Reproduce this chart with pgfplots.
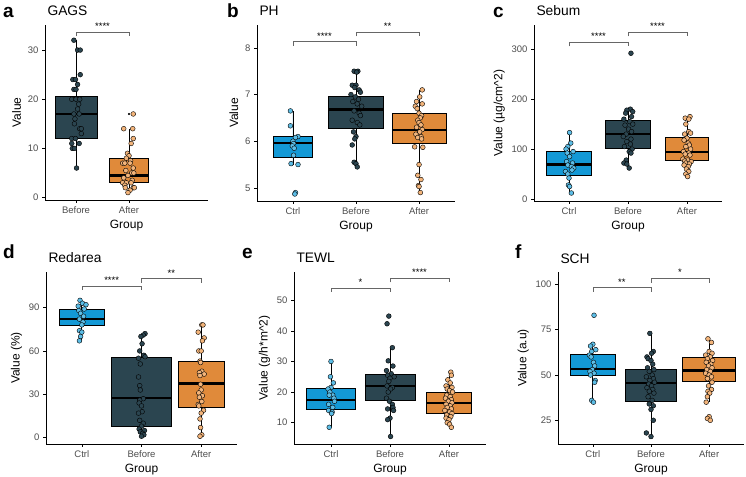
\documentclass[border=0pt]{standalone}
\usepackage{pgfplots}
\pgfplotsset{compat=1.18}
\usepgfplotslibrary{statistics}
\usepackage{fontspec}
\setmainfont{Liberation Sans}
\definecolor{ctrlbox}{HTML}{1399D6}
\definecolor{ctrlpt}{HTML}{5CBDE6}
\definecolor{befbox}{HTML}{2B4550}
\definecolor{befpt}{HTML}{2B4550}
\definecolor{aftbox}{HTML}{E08A3A}
\definecolor{aftpt}{HTML}{F3B47A}
\definecolor{tickgrey}{HTML}{4D4D4D}
\definecolor{brgrey}{HTML}{666666}
\pgfplotsset{
  panel/.style={scale only axis, anchor=south west, axis lines=left,
    axis line style={-, line width=0.7pt, black},
    tick align=outside, major tick length=3pt, tick style={line width=0.6pt, black},
    clip=false, xtick={1,2,3}, xticklabels={Ctrl,Before,After},
    xlabel={Group}, ylabel={Value},
    tick label style={font=\fontsize{9.5}{10}\selectfont, text=tickgrey},
    label style={font=\fontsize{12}{12}\selectfont},
    /pgf/number format/assume math mode=true,
    boxplot/draw direction=y,
    boxplot/every median/.style={line width=2.2pt},
    minor tick num=0},
  bx/.style={draw=black, line width=0.8pt},
  pts/.style={only marks, mark=*, mark size=2.4pt, mark options={draw=black, line width=0.4pt, fill=#1}},
}
\tikzset{
  br/.style={draw=brgrey, line width=0.6pt},
  st/.style={anchor=base, yshift=2.6pt, font=\fontsize{9.5}{9.5}\selectfont},
  ttl/.style={anchor=base west, yshift=9pt, xshift=-1pt, font=\fontsize{13.8}{14}\selectfont},
}
\newcommand{\brk}[3]{\draw[br] ([yshift=-4pt]axis cs:#1,#3) -- (axis cs:#1,#3) -- (axis cs:#2,#3) -- ([yshift=-4pt]axis cs:#2,#3);}
\begin{document}
\begin{tikzpicture}
\useasboundingbox (0,0) rectangle (746pt,476pt);
% panel letters
\node[anchor=base west, font=\bfseries\fontsize{19}{19}\selectfont, inner sep=0pt] at (3pt,458pt) {a};
\node[anchor=base west, font=\bfseries\fontsize{19}{19}\selectfont, inner sep=0pt] at (227pt,458pt) {b};
\node[anchor=base west, font=\bfseries\fontsize{19}{19}\selectfont, inner sep=0pt] at (493pt,458pt) {c};
\node[anchor=base west, font=\bfseries\fontsize{19}{19}\selectfont, inner sep=0pt] at (3pt,217pt) {d};
\node[anchor=base west, font=\bfseries\fontsize{19}{19}\selectfont, inner sep=0pt] at (242pt,217pt) {e};
\node[anchor=base west, font=\bfseries\fontsize{19}{19}\selectfont, inner sep=0pt] at (515pt,217pt) {f};

% ---------------- a: GAGS
\begin{axis}[panel, at={(45pt,276pt)}, width=163pt, height=175pt,
  xmin=0.415, xmax=3.49, ymin=-0.5, ymax=35.1, ytick={0,10,20,30},
  xtick={1,2}, xticklabels={Before,After}]
\addplot[bx, fill=befbox, boxplot prepared={draw position=1, lower whisker=6, lower quartile=12, median=17, upper quartile=20.5, upper whisker=32, box extend=0.79, whisker extend=0}] coordinates {};
\addplot[bx, fill=aftbox, boxplot prepared={draw position=2, lower whisker=1, lower quartile=3, median=4.5, upper quartile=8, upper whisker=14, box extend=0.75, whisker extend=0}] coordinates {};
\addplot[only marks, mark=*, mark size=0.9pt, black] coordinates {(2,17)};
\addplot[pts=befpt] table {
x y
0.96 32
1.03 30
1.08 30
1.08 25
0.94 24
0.99 24
1.03 23
0.96 22
1.00 22
0.92 20
1.00 20
1.07 20
1.05 19
1.03 18
0.96 17
1.06 17
0.98 16
0.97 15
1.07 14
1.10 14
1.10 13
0.92 12
0.99 12
0.92 11
1.06 11
0.93 10
0.97 10
1.01 6
};
\addplot[pts=aftpt] table {
x y
2.08 17
1.90 14
2.07 14
2.08 12
2.04 11
1.97 9
2.00 8.5
1.95 8
2.03 7.5
1.88 7
1.92 7
2.02 7
2.08 6
1.94 5.5
2.05 5
2.09 5
1.98 4.5
1.90 4
2.06 3.5
1.88 3
1.95 3
2.04 3
1.92 2.5
1.93 2
2.08 2
2.10 2
2.02 1.5
1.98 1
};
\brk{1}{2}{33.6}
\node[st] at (axis cs:1.5,33.6) {****};
\node[ttl] at (rel axis cs:0,1) {GAGS};
\end{axis}

% ---------------- b: PH
\begin{axis}[panel, at={(257pt,275pt)}, width=198pt, height=176pt,
  xmin=0.43, xmax=3.57, ymin=4.72, ymax=8.49, ytick={5,6,7,8}]
\addplot[bx, fill=ctrlbox, boxplot prepared={draw position=1, lower whisker=5.5, lower quartile=5.65, median=5.96, upper quartile=6.1, upper whisker=6.65, box extend=0.61, whisker extend=0}] coordinates {};
\addplot[bx, fill=befbox, boxplot prepared={draw position=2, lower whisker=5.45, lower quartile=6.27, median=6.68, upper quartile=6.97, upper whisker=7.5, box extend=0.88, whisker extend=0}] coordinates {};
\addplot[bx, fill=aftbox, boxplot prepared={draw position=3, lower whisker=4.9, lower quartile=5.95, median=6.24, upper quartile=6.59, upper whisker=7.1, box extend=0.86, whisker extend=0}] coordinates {};
\addplot[pts=ctrlpt] table {
x y
0.96 6.65
0.96 6.33
1.08 6.10
1.04 6.08
1.00 6.00
1.01 5.95
0.99 5.90
1.02 5.85
1.01 5.70
0.97 5.52
1.08 5.50
1.04 4.90
1.03 4.87
};
\addplot[pts=befpt] table {
x y
1.97 7.50
2.03 7.50
2.01 7.48
1.94 7.20
2.00 7.20
1.98 7.15
2.05 7.10
2.07 7.05
1.92 7.00
1.99 6.95
2.04 6.90
1.95 6.85
2.02 6.80
2.09 6.75
1.97 6.65
2.05 6.60
2.07 6.55
1.94 6.45
2.02 6.40
2.06 6.35
1.96 6.20
2.00 6.10
1.98 6.05
1.94 5.92
1.97 5.55
2.00 5.52
2.02 5.45
};
\addplot[pts=aftpt] table {
x y
3.05 7.10
3.01 6.95
2.96 6.85
3.05 6.80
2.94 6.75
2.97 6.70
3.00 6.60
3.04 6.55
3.02 6.50
2.98 6.45
3.00 6.40
3.03 6.35
2.96 6.30
3.05 6.25
3.01 6.20
2.95 6.15
3.03 6.10
2.98 6.08
3.04 6.05
2.93 5.88
3.06 5.87
3.00 5.50
2.98 5.27
3.03 5.18
2.99 5.05
3.00 5.03
3.02 4.90
};
\brk{1}{2}{8.13}
\brk{2}{3}{8.33}
\node[st] at (axis cs:1.5,8.13) {****};
\node[st] at (axis cs:2.5,8.33) {**};
\node[ttl] at (rel axis cs:0,1) {PH};
\end{axis}

% ---------------- c: Sebum
\begin{axis}[panel, at={(534pt,275pt)}, width=188pt, height=176pt,
  xmin=0.407, xmax=3.593, ymin=-4, ymax=348.6, ytick={0,100,200,300},
  ylabel={Value (µg/cm\textasciicircum 2)}]
\addplot[bx, fill=ctrlbox, boxplot prepared={draw position=1, lower whisker=12, lower quartile=48, median=69, upper quartile=96, upper whisker=133, box extend=0.76, whisker extend=0}] coordinates {};
\addplot[bx, fill=befbox, boxplot prepared={draw position=2, lower whisker=62, lower quartile=101, median=131, upper quartile=158, upper whisker=180, box extend=0.75, whisker extend=0}] coordinates {};
\addplot[bx, fill=aftbox, boxplot prepared={draw position=3, lower whisker=45, lower quartile=77, median=94, upper quartile=124, upper whisker=165, box extend=0.74, whisker extend=0}] coordinates {};
\addplot[pts=ctrlpt] table {
x y
1.01 133
1.03 112
0.98 105
0.95 100
1.07 95
0.97 92
1.01 85
0.96 75
1.06 72
0.98 68
1.04 65
1.08 62
1.05 58
0.94 55
0.98 50
1.00 42
0.99 28
1.01 25
1.04 12
};
\addplot[pts=befpt] table {
x y
2.05 292
2.04 180
1.98 178
2.08 175
1.96 172
2.06 165
1.93 160
2.03 155
2.08 150
1.95 148
2.01 140
2.06 135
1.97 130
1.92 125
2.05 120
1.98 115
2.04 110
1.94 105
2.07 100
2.02 95
2.05 92
1.97 78
1.93 72
1.98 70
2.02 62
};
\addplot[pts=aftpt] table {
x y
3.05 165
2.97 162
3.03 160
2.98 150
3.03 135
3.06 132
2.96 130
3.00 122
2.95 118
3.02 112
3.04 108
2.98 105
3.06 100
2.94 95
3.03 92
2.97 90
3.05 88
2.93 80
3.01 78
2.96 76
3.07 75
2.98 72
3.04 70
2.95 68
3.02 65
2.99 60
3.03 55
2.98 50
3.01 45
};
\brk{1}{2}{314}
\brk{2}{3}{334}
\node[st] at (axis cs:1.5,314) {****};
\node[st] at (axis cs:2.5,334) {****};
\node[ttl] at (rel axis cs:0,1) {Sebum};
\end{axis}

% ---------------- d: Redarea
\begin{axis}[panel, at={(46pt,32pt)}, width=191pt, height=172pt,
  xmin=0.4, xmax=3.6, ymin=-4.35, ymax=114.6, ytick={0,30,60,90},
  ylabel={Value (\%)}]
\addplot[bx, fill=ctrlbox, boxplot prepared={draw position=1, lower whisker=67, lower quartile=78, median=82, upper quartile=88.5, upper whisker=95, box extend=0.75, whisker extend=0}] coordinates {};
\addplot[bx, fill=befbox, boxplot prepared={draw position=2, lower whisker=1, lower quartile=8, median=27.5, upper quartile=55.5, upper whisker=72, box extend=1.0, whisker extend=0}] coordinates {};
\addplot[bx, fill=aftbox, boxplot prepared={draw position=3, lower whisker=1, lower quartile=21, median=37.5, upper quartile=53, upper whisker=78, box extend=0.77, whisker extend=0}] coordinates {};
\addplot[pts=ctrlpt] table {
x y
0.97 95
1.01 93
1.07 92
0.94 91
1.04 89
0.95 88
0.98 86
1.03 84
0.96 82
1.02 80
1.00 78
0.96 74
1.00 73
0.98 70
0.96 67
};
\addplot[pts=befpt] table {
x y
2.06 72
2.03 71
1.99 70
2.01 65
1.97 60
2.04 57
2.06 56
1.95 55
1.98 51
1.95 42
1.97 36
1.98 33
2.03 27
1.97 26
1.96 24
2.00 22
2.01 18
1.95 17
1.97 12
2.03 10
2.00 8
1.96 6
2.05 5
1.98 4
2.02 3
2.04 2
2.00 1
};
\addplot[pts=aftpt] table {
x y
3.01 78
3.03 78
2.95 73
3.05 69
3.02 67
2.96 60
3.00 60
2.98 53
2.99 52
3.01 46
2.97 45
3.05 44
2.98 43
2.99 37
3.00 33
2.96 31
3.02 29
2.97 28
3.01 25
2.95 23
2.96 22
3.04 19
3.00 17
2.98 13
2.99 7
3.01 2
2.98 1
};
\brk{1}{2}{105}
\brk{2}{3}{110}
\node[st] at (axis cs:1.5,105) {****};
\node[st] at (axis cs:2.5,110) {**};
\node[ttl] at (rel axis cs:0,1) {Redarea};
\end{axis}

% ---------------- e: TEWL
\begin{axis}[panel, at={(294pt,32pt)}, width=192pt, height=172pt,
  xmin=0.373, xmax=3.627, ymin=3.05, ymax=59.2, ytick={10,20,30,40,50},
  ylabel={Value (g/h*m\textasciicircum 2)}]
\addplot[bx, fill=ctrlbox, boxplot prepared={draw position=1, lower whisker=8.5, lower quartile=14.3, median=17.5, upper quartile=21.3, upper whisker=30, box extend=0.82, whisker extend=0}] coordinates {};
\addplot[bx, fill=befbox, boxplot prepared={draw position=2, lower whisker=5.5, lower quartile=17.3, median=22, upper quartile=25.8, upper whisker=34.5, box extend=0.85, whisker extend=0}] coordinates {};
\addplot[bx, fill=aftbox, boxplot prepared={draw position=3, lower whisker=8.5, lower quartile=13, median=16.5, upper quartile=19.8, upper whisker=26.5, box extend=0.77, whisker extend=0}] coordinates {};
\addplot[pts=ctrlpt] table {
x y
1.00 30
0.99 25
1.04 23
1.00 21.5
0.95 21
0.98 20
1.03 19
0.97 19
1.05 18
1.06 17
0.96 16
1.03 15
0.96 14
1.02 13.5
1.01 13
0.97 8.5
};
\addplot[pts=befpt] table {
x y
1.98 44.8
1.95 42.3
2.04 34.5
1.97 30.2
2.05 28.5
1.94 27
2.02 26
1.96 25.5
2.07 25
2.00 24.5
1.98 23.5
1.95 22
2.04 21.5
2.01 21
1.97 20
1.94 18
1.99 17
2.04 16
2.05 15
1.96 14.5
2.06 14
2.00 11.5
1.96 11
2.01 5.5
};
\addplot[pts=aftpt] table {
x y
3.03 26.5
3.04 25.5
2.98 24
3.02 23
2.95 22
3.05 21.5
2.97 21
3.01 20.5
3.06 20
2.96 19
3.02 18.5
2.94 18
3.04 17.5
2.99 17
3.05 16.5
2.95 16
3.02 15.5
2.97 15
3.04 14.5
2.93 14
3.01 13.5
3.05 13
2.96 12.5
3.03 12
2.95 11.5
3.00 11
2.97 10
3.01 9.5
3.04 8.5
};
\brk{1}{2}{54}
\brk{2}{3}{57.1}
\node[st] at (axis cs:1.5,54) {*};
\node[st] at (axis cs:2.5,57.1) {****};
\node[ttl] at (rel axis cs:0,1) {TEWL};
\end{axis}

% ---------------- f: SCH
\begin{axis}[panel, at={(558pt,32pt)}, width=186pt, height=172pt,
  xmin=0.4, xmax=3.6, ymin=11.9, ymax=106.9, ytick={25,50,75,100},
  ylabel={Value (a.u)}]
\addplot[bx, fill=ctrlbox, boxplot prepared={draw position=1, lower whisker=35, lower quartile=50, median=53.5, upper quartile=61.5, upper whisker=67, box extend=0.77, whisker extend=0}] coordinates {};
\addplot[bx, fill=befbox, boxplot prepared={draw position=2, lower whisker=16, lower quartile=35.5, median=45.5, upper quartile=53, upper whisker=73, box extend=0.88, whisker extend=0}] coordinates {};
\addplot[bx, fill=aftbox, boxplot prepared={draw position=3, lower whisker=35, lower quartile=46.5, median=52.5, upper quartile=59.5, upper whisker=70, box extend=0.91, whisker extend=0}] coordinates {};
\addplot[pts=ctrlpt] table {
x y
1.02 83
1.00 67
0.96 66
1.05 64
0.98 63
0.94 61
0.97 60
1.01 57
1.03 55
0.99 53
0.95 52
1.02 51
0.96 50
1.04 47
1.03 46
0.98 36
1.01 35
};
\addplot[pts=befpt] table {
x y
1.98 73
2.04 63
2.01 62
1.93 60
1.95 59
2.00 58
2.03 56
1.94 54
2.05 53
1.97 52
2.02 50
1.92 49
2.04 48
1.98 47
2.06 46
1.96 45
2.01 44
1.93 43
2.03 42
1.97 41
2.05 40
1.95 38
2.02 36
1.97 34
2.04 33
2.00 31
2.04 25
1.92 18
2.00 16
};
\addplot[pts=aftpt] table {
x y
2.98 70
3.04 68
3.00 63
3.05 62
2.94 61
3.02 60
2.97 59
3.06 58
2.95 57
3.03 56
2.99 55
3.05 54
2.96 53
3.02 52
2.94 51
3.00 50
3.04 49
2.97 48
3.05 46
2.99 44
3.04 42
2.98 41
3.01 40
2.97 38
2.95 35
3.00 27
2.97 26
3.02 25
};
\brk{1}{2}{98.2}
\brk{2}{3}{103.3}
\node[st] at (axis cs:1.5,98.2) {**};
\node[st] at (axis cs:2.5,103.3) {*};
\node[ttl] at (rel axis cs:0,1) {SCH};
\end{axis}
\end{tikzpicture}
\end{document}
